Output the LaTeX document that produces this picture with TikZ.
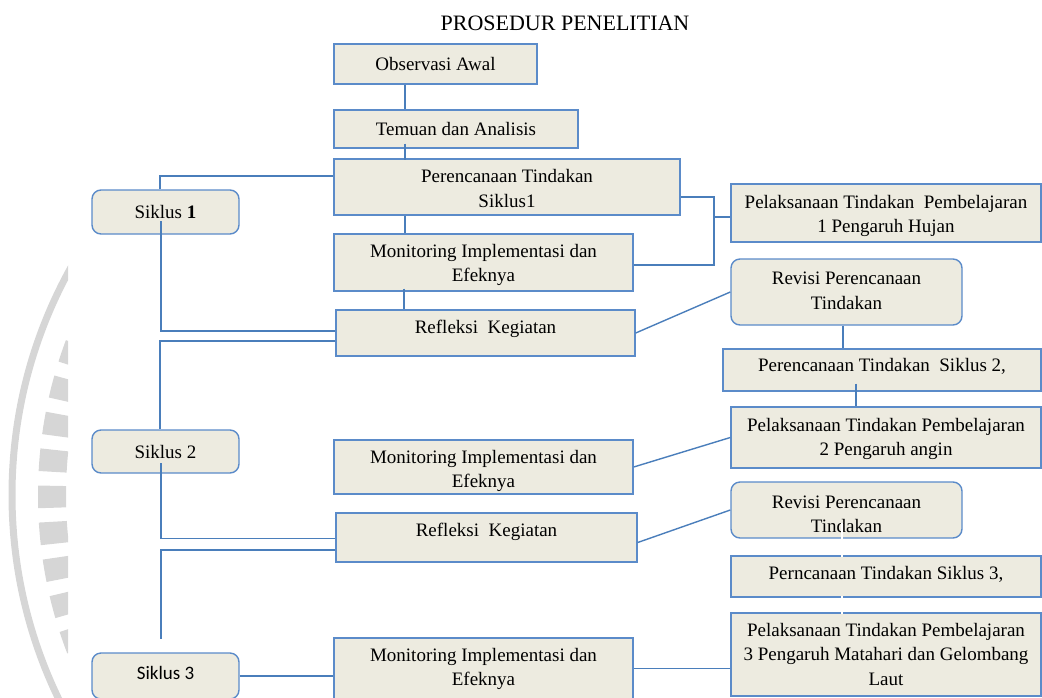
\documentclass[tikz,border=0pt]{standalone}
\usepackage{fontspec}
\setmainfont{Liberation Serif}
\newfontfamily\carl{Carlito}
\usetikzlibrary{calc}
\definecolor{boxfill}{HTML}{EDEBE0}
\definecolor{boxline}{HTML}{5B8BC9}
\definecolor{conn}{HTML}{4A7EBB}
\definecolor{wm}{HTML}{D6D6D6}
\newcommand{\tx}[2]{\raisebox{#1}[\height][\depth]{\begin{tabular}{@{}c@{}}#2\end{tabular}}}
\begin{document}
\begin{tikzpicture}[x=1pt,y=-1pt,
  font=\fontsize{19}{24.5}\selectfont,
  box/.style={draw=boxline, line width=1.4pt, fill=boxfill, inner sep=0pt, align=center},
  rbox/.style={box, rounded corners=9pt},
  con/.style={draw=conn, line width=2pt},
  thinc/.style={draw=conn, line width=1.4pt},
  ghost/.style={draw=white, line width=1.1pt}]
\useasboundingbox (0,0) rectangle (1042,697);
\clip (0,0) rectangle (1042,697);
% watermark
\begin{scope}
\clip (0,0) rectangle (68,697);
\draw[wm, line width=7pt] (480,495) circle[radius=468];
\draw[wm, line width=28pt, dash pattern=on 22pt off 14pt] (480,495) circle[radius=428];
\end{scope}
% title
\node (title) at (565,23) {\fontsize{22}{26}\selectfont PROSEDUR PENELITIAN};
% nodes
\node[box, minimum width=203, minimum height=40] (obs) at (435.5,64) {Observasi Awal};
\node[box, minimum width=244, minimum height=38] (tem) at (456,129) {Temuan dan Analisis};
\node[box, minimum width=346, minimum height=56] (per1) at (507,187) {\tx{-3pt}{Perencanaan Tindakan\\Siklus1}};
\node[box, minimum width=299, minimum height=57] (mon1) at (483.5,262.5) {\tx{-2pt}{Monitoring Implementasi dan\\Efeknya}};
\node[box, minimum width=299, minimum height=46] (ref1) at (485.5,333) {\tx{4pt}{Refleksi\ \ Kegiatan}};
\node[rbox, minimum width=147, minimum height=44] (sik1) at (165.5,212) {Siklus \textbf{1}};
\node[rbox, minimum width=147, minimum height=43] (sik2) at (165.5,451.5) {Siklus 2};
\node[rbox, minimum width=147, minimum height=46] (sik3) at (165.5,676) {\tx{1pt}{\carl Siklus 3}};
\node[box, minimum width=299, minimum height=54] (mon2) at (483.5,467) {\tx{-3.5pt}{Monitoring Implementasi dan\\Efeknya}};
\node[box, minimum width=301, minimum height=49] (ref2) at (486.5,537.5) {\tx{5.5pt}{Refleksi\ \ Kegiatan}};
\node[box, minimum width=299, minimum height=61] (mon3) at (483.5,668.5) {\tx{0pt}{Monitoring Implementasi dan\\Efeknya}};
\node[box, minimum width=310, minimum height=58] (pel1) at (886,213) {\tx{-2.5pt}{Pelaksanaan Tindakan\ \ Pembelajaran\\1 Pengaruh Hujan}};
\node[rbox, minimum width=231, minimum height=66] (rev1) at (846.5,292) {\tx{0pt}{Revisi Perencanaan\\Tindakan}};
\node[box, minimum width=318, minimum height=42] (per2) at (882,370) {\tx{3pt}{Perencanaan Tindakan\ \ Siklus 2,}};
\node[box, minimum width=310, minimum height=61] (pel2) at (886,437.5) {\tx{-1pt}{Pelaksanaan Tindakan Pembelajaran\\2 Pengaruh angin}};
\node[rbox, minimum width=231, minimum height=56] (rev2) at (846.5,510) {\tx{-5.5pt}{Revisi Perencanaan\\Tindakan}};
\node[box, minimum width=310, minimum height=41] (per3) at (886,576.5) {\tx{1.5pt}{Perncanaan Tindakan Siklus 3,}};
\node[box, minimum width=310, minimum height=83] (pel3) at (886,654.5) {\tx{-1.5pt}{Pelaksanaan Tindakan Pembelajaran\\3 Pengaruh Matahari dan Gelombang\\Laut}};
% connectors, centre column
\draw[con] ([xshift=72pt]obs.south west) -- ([xshift=72pt]tem.north west);
\draw[con] ([xshift=72pt,yshift=5pt]tem.south west) -- ([xshift=72pt,yshift=-2pt]per1.north west);
\draw[con] ([xshift=72pt]per1.south west) -- ([xshift=72pt]mon1.north west);
\draw[con] ([xshift=71pt,yshift=3pt]mon1.south west) -- ([xshift=69pt]ref1.north west);
% left column
\draw[con] ([xshift=69pt]sik1.north west) |- ([yshift=-18pt]per1.north west);
\draw[con] ([xshift=-4.5pt,yshift=-9pt]sik1.center) |- ([yshift=-22pt]ref1.north west);
\draw[con] ([yshift=-32pt]ref1.north west) -| ([xshift=69pt]sik2.north west);
\draw[con, line width=1.3pt] ([xshift=-4.5pt,yshift=-11.5pt]sik2.center) |- ([yshift=-26pt]ref2.north west);
\coordinate (s3) at (161,639);
\draw[con] ([yshift=-38pt]ref2.north west) -| (s3);
\draw[thinc] (sik3.east) -- (sik3.east -| mon3.west);
% right column
\coordinate (j1) at (714,217);
\draw[con] ([yshift=-39pt]per1.north east) -| (j1);
\draw[con] ([yshift=-32pt]mon1.north east) -| (j1);
\draw[con] (j1) -- (j1 -| pel1.west);
\draw[thinc] (ref1.east) -- (rev1.west);
\draw[con] ($(rev1.south)+(-4,0)$) -- ($(rev1.south |- per2.north)+(-4,0)$);
\draw[thinc] ($(per2.south)+(-26,-8)$) -- ($(per2.south |- pel2.north)+(-26,0)$);
\draw[thinc] (mon2.east) -- (pel2.west);
\draw[thinc] ([yshift=-5pt]ref2.east) -- (rev2.west);
\draw[ghost] ($(rev2.south)+(-4.5,-16)$) -- ($(rev2.south |- per3.north)+(-4.5,2)$);
\draw[ghost] ($(per3.south)+(-44,-2)$) -- ($(per3.south |- pel3.north)+(-44,2)$);
\draw[thinc] (mon3.east) -- (mon3.east -| pel3.west);
\end{tikzpicture}
\end{document}
